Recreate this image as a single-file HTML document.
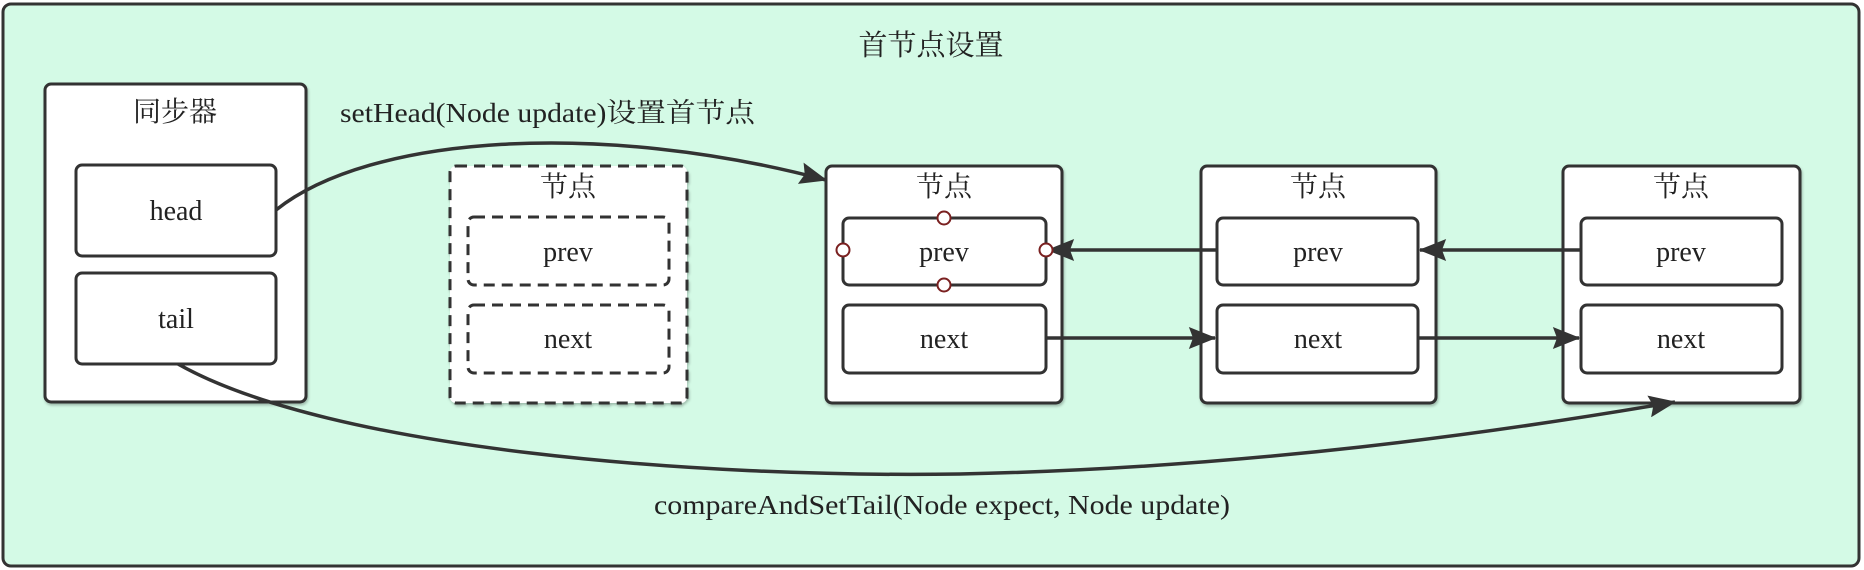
<!DOCTYPE html>
<html><head><meta charset="utf-8"><style>
html,body{margin:0;padding:0;background:#fff;}
svg{display:block;}
text{font-family:"Liberation Serif","Noto Serif CJK SC",serif;fill:#222;}
</style></head><body>
<svg width="1864" height="570" viewBox="0 0 1864 570" xmlns="http://www.w3.org/2000/svg">
<defs>
<marker id="a" viewBox="0 0 20 16" refX="19" refY="8" markerWidth="30" markerHeight="22" orient="auto" markerUnits="userSpaceOnUse">
<path d="M0,0 L20,8 L0,16 L3,8 Z" fill="#333"/>
</marker>
<filter id="sh" x="-5%" y="-5%" width="110%" height="115%"><feDropShadow dx="1" dy="2" stdDeviation="1.2" flood-color="#000" flood-opacity="0.25"/></filter>
</defs>
<rect x="3" y="4" width="1856" height="562" rx="8" fill="#d4fae6" stroke="#333" stroke-width="3"/>
<text x="931" y="55" font-size="29" text-anchor="middle">首节点设置</text>

<g stroke="#333" stroke-width="3" fill="#fff" filter="url(#sh)">
<rect x="45" y="84" width="261" height="318" rx="6"/>
<rect x="76" y="165" width="200" height="91" rx="6"/>
<rect x="76" y="273" width="200" height="91" rx="6"/>
<rect x="450" y="166" width="237" height="237" rx="6" stroke-dasharray="11,7"/>
<rect x="468" y="217" width="201" height="68" rx="6" stroke-dasharray="11,7"/>
<rect x="468" y="305" width="201" height="68" rx="6" stroke-dasharray="11,7"/>
<rect x="826" y="166" width="236" height="237" rx="6"/>
<rect x="843" y="218" width="203" height="67" rx="6"/>
<rect x="843" y="305" width="203" height="68" rx="6"/>
<rect x="1201" y="166" width="235" height="237" rx="6"/>
<rect x="1217" y="218" width="201" height="67" rx="6"/>
<rect x="1217" y="305" width="201" height="68" rx="6"/>
<rect x="1563" y="166" width="237" height="237" rx="6"/>
<rect x="1581" y="218" width="201" height="67" rx="6"/>
<rect x="1581" y="305" width="201" height="68" rx="6"/>
</g>

<g font-size="28" text-anchor="middle">
<text x="175" y="121">同步器</text>
<text x="176" y="220">head</text>
<text x="176" y="328">tail</text>
<text x="568" y="196">节点</text>
<text x="568" y="261">prev</text>
<text x="568" y="348">next</text>
<text x="944" y="196">节点</text>
<text x="944" y="261">prev</text>
<text x="944" y="348">next</text>
<text x="1318" y="196">节点</text>
<text x="1318" y="261">prev</text>
<text x="1318" y="348">next</text>
<text x="1681" y="196">节点</text>
<text x="1681" y="261">prev</text>
<text x="1681" y="348">next</text>
</g>

<g stroke="#333" stroke-width="3.5" fill="none">
<line x1="1217" y1="250" x2="1048" y2="250" marker-end="url(#a)"/>
<line x1="1581" y1="250" x2="1420" y2="250" marker-end="url(#a)"/>
<line x1="1046" y1="338" x2="1215" y2="338" marker-end="url(#a)"/>
<line x1="1418" y1="338" x2="1579" y2="338" marker-end="url(#a)"/>
<path d="M276,210 C370,135 600,120 826,180" marker-end="url(#a)"/>
<path d="M178,364 C330,450 700,478 960,474 C1250,468 1500,432 1675,402" marker-end="url(#a)"/>
</g>

<g fill="#fff" stroke="#7a2020" stroke-width="2">
<circle cx="944" cy="218" r="6.5"/>
<circle cx="944" cy="285" r="6.5"/>
<circle cx="843" cy="250" r="6.5"/>
<circle cx="1046" cy="250" r="6.5"/>
</g>

<text x="340" y="122" font-size="27" textLength="415" lengthAdjust="spacingAndGlyphs">setHead(Node update)设置首节点</text>
<text x="654" y="514" font-size="27" textLength="576" lengthAdjust="spacingAndGlyphs">compareAndSetTail(Node expect, Node update)</text>
</svg>
</body></html>
